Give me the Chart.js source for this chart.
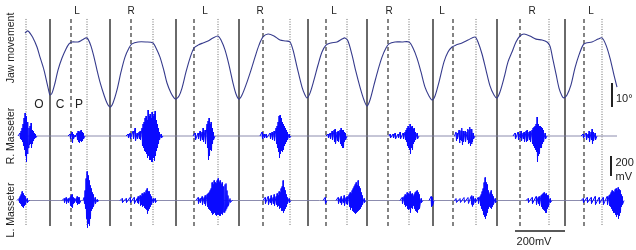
<!DOCTYPE html>
<html>
<head>
<meta charset="utf-8">
<script src="https://cdn.jsdelivr.net/npm/chart.js@4"></script>
<style>
  body { margin: 0; background: #fff; }
  canvas { display: block; }
</style>
</head>
<body>
<canvas id="chart" width="636" height="250"></canvas>
<script>
// time in samples (250 Hz, 4 ms each)
const jawTime = [25,28,33,37,40,44,47,49,50,52,55,58,62,66,69,72,78,82,86,88,91,94,97,100,104,107,110,113,117,121,125,129,132,138,146,153,156,160,164,167,171,174,176,179,182,186,190,194,198,203,208,213,218,221,225,229,233,236,239,242,246,251,255,259,263,268,274,280,286,290,293,297,302,305,307,310,314,318,322,326,331,337,342,345,348,352,356,360,364,367,370,374,378,382,386,389,395,402,409,413,417,421,425,429,432,435,439,444,448,452,456,462,468,475,478,482,486,490,494,497,500,504,508,512,516,520,524,530,536,542,547,550,553,556,559,562,564,567,571,575,579,583,586,592,598,602,606,610,614,617];
// jaw opening angle, degrees
const jawAngle = [30.8,31.7,28.8,25.0,20.8,15.4,10.0,6.3,5.0,5.8,10.0,15.4,20.4,24.2,26.3,27.1,27.1,27.9,28.8,28.3,25.4,20.8,15.4,10.4,5.0,1.7,0,1.7,7.1,14.6,20.8,24.6,26.3,27.1,27.1,26.7,24.6,20.8,15.0,10.0,5.8,3.8,3.3,4.6,7.9,14.6,20.4,24.6,25.8,26.7,27.5,28.8,29.6,27.9,23.8,17.5,10.0,5.4,3.3,5.0,9.2,15.4,20.8,25.8,29.2,30.4,29.6,27.9,27.5,27.1,23.8,16.7,8.3,5.0,3.8,5.8,11.3,17.5,22.9,25.8,26.7,27.1,28.3,28.8,27.5,21.7,14.6,8.3,2.9,0.4,2.9,9.2,15.4,20.8,24.6,26.3,27.1,27.1,27.1,24.6,20.4,14.6,8.3,4.6,2.9,4.6,10.4,18.8,22.9,25.0,25.8,26.7,27.9,29.2,27.1,22.1,15.4,8.8,5.0,3.8,6.3,12.1,18.8,22.9,27.1,29.6,30.4,29.6,28.3,27.9,27.1,25.4,19.6,13.8,7.9,4.6,3.8,5.0,9.2,16.3,21.7,25.8,26.7,27.1,28.3,28.8,25.8,20.4,13.3,8.3];

// phase boundaries
const openOnset = [26,87,153,218,290,347,409,476,549,602];   // dotted
const closeOnset = [50,110,176,239,308,367,433,497,565];     // solid
const powerOnset = [71,131,194,263,326,388,453,520,584];     // dashed

const sideTimes = [77,131,205,260,334,389,442,532,591];
const sideLabels = ['L','R','L','R','L','R','L','R','L'];
const phaseTimes = [39,60,79];
const phaseLabels = ['O','C','P'];

// EMG bursts: [time, positive peak mV, negative peak mV]
const rMasseter = [
  [[18,0,0],[20,30,30],[21,50,40],[22,80,60],[23,120,100],[24,180,140],[25,230,200],[26,200,260],[27,140,180],[28,100,120],[29,80,90],[30,100,80],[31,130,120],[32,60,80],[33,50,50],[34,30,30],[35,20,20],[37,0,0]],
  [[68,0,0],[70,20,30],[72,40,70],[73,20,30],[75,10,10],[77,30,40],[78,50,60],[79,40,70],[80,50,50],[81,60,60],[82,40,50],[83,30,30],[85,0,0]],
  [[126,0,0],[128,20,20],[130,30,30],[133,50,30],[135,80,50],[137,30,30],[139,40,30],[140,50,40],[142,80,100],[143,120,120],[144,140,150],[145,180,160],[146,200,180],[147,160,220],[148,260,200],[149,200,240],[150,220,240],[151,180,260],[152,240,260],[153,200,220],[154,220,250],[155,250,200],[156,160,150],[157,120,120],[158,80,80],[159,40,40],[161,20,20],[163,0,0]],
  [[193,0,0],[195,30,40],[198,30,30],[200,50,50],[202,40,40],[203,80,60],[205,60,80],[207,120,120],[208,150,240],[209,180,200],[210,120,140],[211,140,150],[212,80,80],[213,40,40],[215,0,0]],
  [[260,0,0],[262,40,30],[264,20,20],[266,20,20],[268,0,0],[270,30,30],[272,40,40],[274,50,50],[276,80,80],[277,100,120],[278,140,160],[279,200,220],[280,210,180],[281,180,150],[282,140,160],[283,120,140],[284,100,100],[285,80,80],[286,60,60],[287,40,40],[289,20,20],[291,0,0]],
  [[326,0,0],[328,20,20],[330,30,30],[332,50,40],[334,60,60],[335,70,80],[337,40,50],[338,50,60],[340,60,80],[341,80,100],[342,60,120],[343,60,120],[344,40,60],[345,30,40],[347,0,0]],
  [[389,0,0],[390,20,20],[393,20,20],[395,30,30],[398,20,20],[400,40,30],[403,30,30],[405,40,40],[406,60,60],[407,80,100],[408,100,120],[409,80,140],[410,120,180],[411,90,120],[412,100,140],[413,70,80],[414,80,60],[415,40,40],[417,30,30],[419,0,0]],
  [[454,0,0],[456,40,50],[457,30,30],[459,60,70],[460,40,40],[461,50,50],[462,80,90],[463,50,60],[465,50,60],[467,40,40],[468,70,80],[469,60,70],[470,90,100],[471,70,80],[472,70,60],[473,30,30],[475,0,0]],
  [[513,0,0],[515,30,30],[518,40,40],[520,20,20],[521,50,50],[523,30,30],[524,40,60],[526,50,60],[527,60,50],[529,40,40],[530,50,60],[532,60,80],[533,80,100],[534,90,120],[535,100,140],[536,120,160],[537,190,260],[538,120,200],[539,100,180],[540,100,120],[541,90,120],[542,80,80],[543,60,60],[545,30,30],[547,0,0]],
  [[581,0,0],[583,20,20],[586,30,40],[588,20,20],[589,50,60],[591,40,40],[592,70,80],[593,40,50],[595,30,40],[597,0,0]]
];

const lMasseter = [
  [[17,0,0],[19,20,20],[20,40,30],[21,60,50],[22,90,60],[23,70,70],[24,50,50],[25,40,40],[27,20,20],[29,0,0]],
  [[62,0,0],[64,20,20],[66,30,30],[68,20,20],[70,30,50],[71,50,60],[72,60,70],[73,30,30],[74,20,20],[76,20,20],[77,40,40],[78,30,30],[79,30,30],[81,0,0]],
  [[83,0,0],[84,30,30],[85,100,80],[86,220,180],[87,290,270],[88,250,230],[89,200,250],[90,150,180],[91,120,100],[92,80,80],[93,60,60],[95,30,30],[97,10,10],[99,0,0]],
  [[120,0,0],[122,20,20],[126,20,20],[130,30,20],[134,30,30],[137,20,20],[138,40,30],[140,50,50],[141,40,40],[142,70,60],[143,60,50],[144,80,70],[145,70,80],[146,100,90],[147,120,130],[148,90,100],[149,90,80],[150,60,60],[151,40,40],[153,20,20],[155,20,20],[157,0,0]],
  [[196,0,0],[198,30,30],[200,20,20],[202,40,40],[204,30,30],[205,50,50],[207,60,60],[208,70,80],[209,80,90],[210,100,100],[211,120,120],[212,180,140],[213,160,130],[214,200,120],[215,180,140],[216,170,150],[217,200,140],[218,220,140],[219,180,150],[220,200,150],[221,160,130],[222,180,140],[223,140,120],[224,140,120],[225,160,100],[226,170,80],[227,100,60],[228,50,50],[230,20,20],[232,0,0]],
  [[263,0,0],[265,30,30],[268,40,40],[270,20,20],[271,50,40],[273,30,30],[274,60,50],[276,40,40],[277,70,60],[278,50,50],[279,90,80],[280,80,70],[281,120,100],[282,140,100],[283,200,120],[284,130,100],[285,100,80],[286,60,60],[287,30,30],[289,20,20],[291,0,0]],
  [[323,0,0],[325,30,30],[327,0,0]],
  [[336,0,0],[338,30,30],[340,20,20],[341,40,40],[343,20,20],[344,50,50],[346,30,30],[347,40,40],[349,60,60],[350,80,90],[351,70,70],[352,100,100],[353,120,110],[354,140,120],[355,160,130],[356,180,120],[357,150,110],[358,200,100],[359,140,90],[360,120,80],[361,80,60],[362,50,40],[364,20,20],[366,0,0]],
  [[400,0,0],[402,30,30],[404,40,40],[405,60,60],[406,50,50],[407,80,80],[408,70,90],[409,60,80],[410,90,120],[411,60,70],[412,70,80],[413,40,50],[414,60,80],[415,80,100],[416,90,110],[417,100,120],[418,80,90],[419,60,80],[421,20,20],[423,0,0]],
  [[429,0,0],[431,40,60],[432,30,50],[434,0,0]],
  [[454,0,0],[456,20,20],[460,20,20],[464,30,20],[468,30,30],[471,40,40],[472,50,60],[473,40,40],[475,20,20],[478,30,30],[480,40,50],[481,60,80],[482,90,100],[483,120,140],[484,180,160],[485,230,180],[486,180,150],[487,160,120],[488,100,80],[489,60,60],[490,80,70],[491,100,80],[492,60,60],[493,40,40],[495,20,20],[497,0,0]],
  [[526,0,0],[528,20,20],[532,30,30],[536,40,40],[538,30,30],[539,40,50],[541,50,60],[542,60,80],[543,70,90],[544,80,100],[545,60,120],[546,70,120],[547,50,80],[548,50,60],[550,20,20],[552,0,0]],
  [[581,0,0],[583,20,20],[587,30,20],[591,30,30],[595,40,40],[599,30,30],[603,30,40],[607,40,40],[609,50,50],[610,60,60],[611,80,80],[612,100,100],[613,90,120],[614,80,120],[615,110,140],[616,120,160],[617,100,140],[618,130,180],[619,110,150],[620,100,120],[621,60,60],[622,40,40],[624,0,0]]
];

const jawPoints = jawTime.map((t, i) => ({ x: t, y: jawAngle[i] }));

function emgPoints(bursts) {
  const pts = [];
  bursts.forEach(b => {
    b.forEach(([t, up, down]) => {
      pts.push({ x: t, y: up });
      pts.push({ x: t + 0.5, y: -down });
    });
    pts.push({ x: b[b.length - 1][0] + 1, y: null });
  });
  return pts;
}

function eventLines(times) {
  const pts = [];
  times.forEach(t => {
    pts.push({ x: t, y: 36.7 });
    pts.push({ x: t, y: -49.6 });
    pts.push({ x: t, y: null });
  });
  return pts;
}

const FONT = "'Liberation Sans', Arial, sans-serif";

const textPlugin = {
  id: 'texts',
  afterDraw(chart) {
    const ctx = chart.ctx;
    const xs = chart.scales.x;
    ctx.save();
    ctx.fillStyle = '#222';
    ctx.textBaseline = 'middle';

    // row labels
    ctx.font = '10.5px ' + FONT;
    ctx.textAlign = 'center';
    [['Jaw movement', 48], ['R. Masseter', 136], ['L. Masseter', 210]].forEach(([txt, y]) => {
      ctx.save();
      ctx.translate(11, y);
      ctx.rotate(-Math.PI / 2);
      ctx.fillText(txt, 0, 0);
      ctx.restore();
    });

    ctx.font = '10px ' + FONT;
    sideTimes.forEach((t, i) => ctx.fillText(sideLabels[i], xs.getPixelForValue(t), 11));

    ctx.font = '12px ' + FONT;
    phaseTimes.forEach((t, i) => ctx.fillText(phaseLabels[i], xs.getPixelForValue(t), 105));

    ctx.font = '11px ' + FONT;
    ctx.textAlign = 'left';
    ctx.fillText('10°', 616, 99);
    ctx.fillText('200', 615.5, 163);
    ctx.fillText('mV', 615.5, 177);
    ctx.textAlign = 'center';
    ctx.fillText('200mV', 534, 242);
    ctx.restore();
  }
};

new Chart(document.getElementById('chart'), {
  type: 'line',
  data: {
    datasets: [
      { data: jawPoints, yAxisID: 'yJaw', borderColor: '#353a8c', borderWidth: 1.1, tension: 0.3, order: 0 },
      { data: emgPoints(rMasseter), yAxisID: 'yR', borderColor: '#0a0aff', borderWidth: 1, spanGaps: false, order: 1 },
      { data: emgPoints(lMasseter), yAxisID: 'yL', borderColor: '#0a0aff', borderWidth: 1, spanGaps: false, order: 1 },
      { data: [{ x: 19, y: 0 }, { x: 617, y: 0 }], yAxisID: 'yR', borderColor: 'rgba(120,120,160,0.85)', borderWidth: 1, order: 2 },
      { data: [{ x: 18, y: 0 }, { x: 621, y: 0 }], yAxisID: 'yL', borderColor: 'rgba(120,120,160,0.85)', borderWidth: 1, order: 2 },
      { data: eventLines(closeOnset), yAxisID: 'yJaw', borderColor: '#3a3a3a', borderWidth: 1.5, spanGaps: false, order: 3 },
      { data: eventLines(powerOnset), yAxisID: 'yJaw', borderColor: '#333', borderWidth: 1.2, borderDash: [4, 3], spanGaps: false, order: 3 },
      { data: eventLines(openOnset), yAxisID: 'yJaw', borderColor: '#6a6a6a', borderWidth: 1, borderDash: [1, 1.5], spanGaps: false, order: 3 },
      // scale bars
      { data: [{ x: 612, y: 0 }, { x: 612, y: 10 }], yAxisID: 'yJaw', borderColor: '#222', borderWidth: 2, order: 0 },
      { data: [{ x: 611, y: -200 }, { x: 611, y: -400 }], yAxisID: 'yR', borderColor: '#222', borderWidth: 2, order: 0 },
      { data: [{ x: 515, y: -305 }, { x: 565, y: -305 }], yAxisID: 'yL', borderColor: '#222', borderWidth: 1.5, order: 0 }
    ]
  },
  options: {
    responsive: false,
    animation: false,
    devicePixelRatio: 1,
    layout: { padding: 0 },
    elements: { point: { radius: 0 }, line: { tension: 0 } },
    plugins: { legend: { display: false }, tooltip: { enabled: false } },
    scales: {
      x: { type: 'linear', axis: 'x', min: 0, max: 636, display: false },
      yJaw: { type: 'linear', axis: 'y', min: -59.6, max: 44.6, display: false },
      yR: { type: 'linear', axis: 'y', min: -1140, max: 1360, display: false },
      yL: { type: 'linear', axis: 'y', min: -495, max: 2005, display: false }
    }
  },
  plugins: [textPlugin]
});
</script>
</body>
</html>
